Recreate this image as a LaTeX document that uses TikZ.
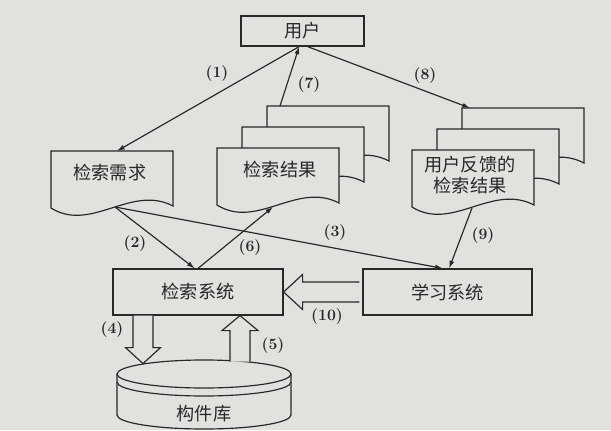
\documentclass[tikz,border=0pt]{standalone}
\usepackage{fontspec}
\newfontfamily\cjk{Noto Sans CJK SC}
\usepackage{tikz}
\usetikzlibrary{arrows.meta,calc}

\definecolor{scan}{RGB}{225,225,221}
\definecolor{ink}{RGB}{40,40,40}

% one sheet of a document symbol, given its top-left corner
\newcommand{\docpage}[1]{\draw[sheet, shift={#1}] (0,0) -- (122,0) -- (122,55) .. controls (80,33) and (40,82) .. (0,57) -- cycle;}

\begin{document}
\begin{tikzpicture}[x=0.3mm, y=-0.3mm, >={Latex[length=2.3mm,width=1.5mm]}, line width=1pt,
  box/.style={draw=ink, fill=scan, minimum height=13.8mm, font=\cjk\fontsize{15.5}{18}\selectfont, text=ink},
  sheet/.style={draw=ink, fill=scan},
  fat/.style={draw=ink, fill=scan, line join=miter},
  txt/.style={font=\cjk\fontsize{15.5}{18}\selectfont, text=ink, align=center},
  lbl/.style={font=\bfseries\fontsize{13.5}{16}\selectfont, text=ink},
  link/.style={->, draw=ink}]
\useasboundingbox (0,0) rectangle (611,430);
\fill[scan] (0,0) rectangle (611,430);
% ================= boxes =================
\node[box, minimum width=36.9mm, minimum height=9mm] (user) at (302.5,31) {用户};
\node[box, minimum width=51mm] (search) at (198,292) {检索系统};
\node[box, minimum width=50.7mm] (learn) at (447.5,292) {学习系统};
% ================= documents =================
\docpage{(51,151)}
\node[txt] (req) at (110,173) {检索需求};
\coordinate (req-t) at (117,151);
\coordinate (req-b) at (115,207);
\foreach \k in {2,1,0}{\docpage{(217+25*\k,148-21*\k)}}
\node[txt] (res) at (280,170) {检索结果};
\coordinate (res-t) at (280,106);
\coordinate (res-b) at (273,207);
\foreach \k in {2,1,0}{\docpage{(412+25*\k,150-21*\k)}}
\node[txt] (fb) at (470,175) {用户反馈的\\检索结果};
\coordinate (fb-t) at (470,108);
\coordinate (fb-b) at (472,208);
% ================= component library =================
\draw[sheet] (117,374) -- (117,415) arc[start angle=180, end angle=0, x radius=87, y radius=14] -- (291,374) -- cycle;
\draw[sheet] (204,374) ellipse [x radius=87, y radius=14];
\draw[ink] (117,382) arc[start angle=180, end angle=0, x radius=87, y radius=14];
\node[txt] (lib) at (204,414) {构件库};
% ================= connectors =================
\draw[link] ([xshift=-1mm]user.south) -- (req-t);
\draw[link] (res-t) -- ([xshift=-1mm]user.south);
\draw[link] ([xshift=1.5mm]user.south) -- (fb-t);
\draw[link] (req-b) -- ([xshift=-1mm]search.north);
\draw[link] (search.north) -- (res-b);
\draw[link] (req-b) -- ([xshift=-1.4mm]learn.north);
\draw[link] (fb-b) -- ([xshift=0.5mm]learn.north);
% hollow arrows
\draw[fat] ($(learn.west)+(-3,-10)$) -- ($(search.east)+(19,-10)$) -- ++(0,-7.5) -- (search.east) -- ++(19,17.5) -- ++(0,-7.5) -- ($(learn.west)+(-3,10)$);
\draw[fat] ($(search.south)+(-65,0)$) -- ++(0,32) -- ++(-7.5,0) -- ++(17.5,16) -- ++(17.5,-16) -- ++(-7.5,0) -- ++(0,-32);
\draw[fat] ($(search.south)+(52,46)$) -- ++(0,-31) -- ++(8,0) -- ++(-18,-15) -- ++(-18,15) -- ++(8,0) -- ++(0,31);
% ================= step numbers =================
\foreach \n/\x/\y in {1/217/74, 2/135/244, 3/335/233, 4/112/330, 5/273/346, 6/250/248, 7/309/85, 8/425/76, 9/483/236, 10/327/317}{\node[lbl] (l\n) at (\x,\y) {(\n)};}
\end{tikzpicture}
\end{document}
